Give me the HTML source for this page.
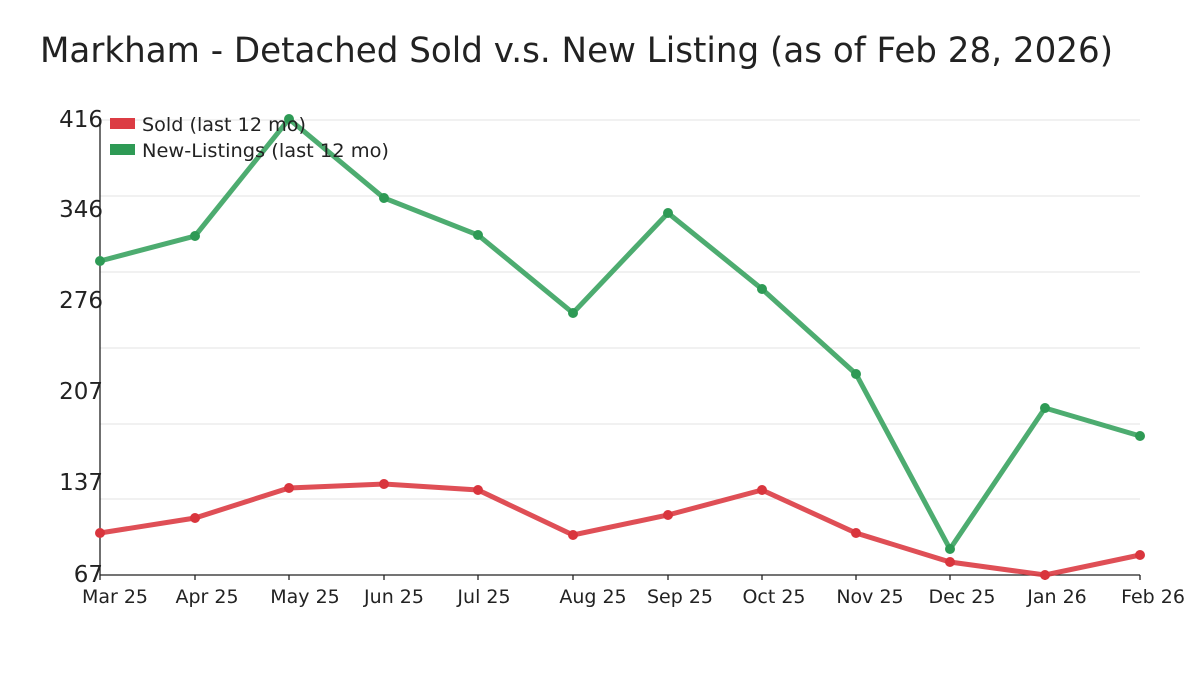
<!DOCTYPE html>
<html><head><meta charset="utf-8"><style>body{margin:0;background:#fff}svg{display:block}text{font-family:"DejaVu Sans","Liberation Sans",sans-serif;fill:#222}</style></head><body>
<svg width="1200" height="675" viewBox="0 0 1200 675">
<text x="40" y="62" font-size="35" textLength="1073" lengthAdjust="spacingAndGlyphs">Markham - Detached Sold v.s. New Listing (as of Feb 28, 2026)</text>
<g stroke="#e3e3e3" stroke-width="1">
<line x1="100" x2="1140" y1="120" y2="120"/><line x1="100" x2="1140" y1="196" y2="196"/><line x1="100" x2="1140" y1="272" y2="272"/><line x1="100" x2="1140" y1="348" y2="348"/><line x1="100" x2="1140" y1="424" y2="424"/><line x1="100" x2="1140" y1="499" y2="499"/>
</g>
<line x1="100" y1="118" x2="100" y2="575" stroke="#222" stroke-width="1.3"/>
<line x1="100" y1="575" x2="1140" y2="575" stroke="#222" stroke-width="1.3"/>
<g stroke="#222" stroke-width="1.3">
<line x1="100" x2="100" y1="575" y2="580"/><line x1="195" x2="195" y1="575" y2="580"/><line x1="289" x2="289" y1="575" y2="580"/><line x1="384" x2="384" y1="575" y2="580"/><line x1="478" x2="478" y1="575" y2="580"/><line x1="573" x2="573" y1="575" y2="580"/><line x1="668" x2="668" y1="575" y2="580"/><line x1="762" x2="762" y1="575" y2="580"/><line x1="856" x2="856" y1="575" y2="580"/><line x1="950" x2="950" y1="575" y2="580"/><line x1="1045" x2="1045" y1="575" y2="580"/><line x1="1140" x2="1140" y1="575" y2="580"/>
</g>
<g font-size="23" text-anchor="end">
<text x="103" y="127">416</text><text x="103" y="217">346</text><text x="103" y="308">276</text><text x="103" y="399">207</text><text x="103" y="490">137</text><text x="103" y="582">67</text>
</g>
<g font-size="19" text-anchor="middle">
<text x="115" y="603">Mar 25</text><text x="207" y="603">Apr 25</text><text x="305" y="603">May 25</text><text x="394" y="603">Jun 25</text><text x="484" y="603">Jul 25</text><text x="593" y="603">Aug 25</text><text x="680" y="603">Sep 25</text><text x="774" y="603">Oct 25</text><text x="870" y="603">Nov 25</text><text x="962" y="603">Dec 25</text><text x="1057" y="603">Jan 26</text><text x="1153" y="603">Feb 26</text>
</g>
<polyline fill="none" stroke="#3aa361" stroke-opacity="0.9" stroke-width="5" points="100,261 195,236 289,119 384,198 478,235 573,313 668,213 762,289 856,374 950,549 1045,408 1140,436"/>
<g fill="#2e9a55">
<circle cx="100" cy="261" r="5"/><circle cx="195" cy="236" r="5"/><circle cx="289" cy="119" r="5"/><circle cx="384" cy="198" r="5"/><circle cx="478" cy="235" r="5"/><circle cx="573" cy="313" r="5"/><circle cx="668" cy="213" r="5"/><circle cx="762" cy="289" r="5"/><circle cx="856" cy="374" r="5"/><circle cx="950" cy="549" r="5"/><circle cx="1045" cy="408" r="5"/><circle cx="1140" cy="436" r="5"/>
</g>
<polyline fill="none" stroke="#dc3c44" stroke-opacity="0.9" stroke-width="5" points="100,533 195,518 289,488 384,484 478,490 573,535 668,515 762,490 856,533 950,562 1045,575 1140,555"/>
<g fill="#d9353d">
<circle cx="100" cy="533" r="5"/><circle cx="195" cy="518" r="5"/><circle cx="289" cy="488" r="5"/><circle cx="384" cy="484" r="5"/><circle cx="478" cy="490" r="5"/><circle cx="573" cy="535" r="5"/><circle cx="668" cy="515" r="5"/><circle cx="762" cy="490" r="5"/><circle cx="856" cy="533" r="5"/><circle cx="950" cy="562" r="5"/><circle cx="1045" cy="575" r="5"/><circle cx="1140" cy="555" r="5"/>
</g>
<rect x="110" y="118" width="25" height="11" fill="#dc3c44"/>
<rect x="110" y="144" width="25" height="11" fill="#2e9a55"/>
<g font-size="19"><text x="142" y="131" textLength="164" lengthAdjust="spacingAndGlyphs">Sold (last 12 mo)</text><text x="142" y="157" textLength="247" lengthAdjust="spacingAndGlyphs">New-Listings (last 12 mo)</text></g>
</svg>
</body></html>
